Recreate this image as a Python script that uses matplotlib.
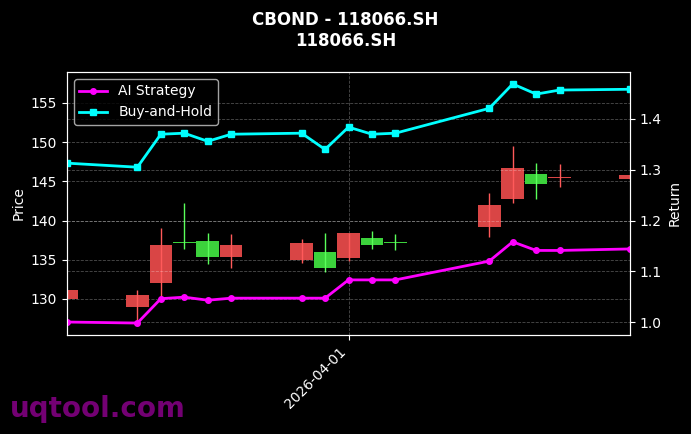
import pandas as pd
import matplotlib
matplotlib.use("Agg")
import matplotlib.pyplot as plt
import matplotlib.dates as mdates

dates = pd.to_datetime([
    "2026-03-20", "2026-03-23", "2026-03-24", "2026-03-25", "2026-03-26", "2026-03-27",
    "2026-03-30", "2026-03-31", "2026-04-01", "2026-04-02", "2026-04-03",
    "2026-04-07", "2026-04-08", "2026-04-09", "2026-04-10", "2026-04-13",
])
opens = [131.1, 130.5, 136.9, 137.15, 135.4, 136.9, 137.1, 133.9, 138.4, 136.9, 137.1,
         142.0, 146.7, 144.6, 145.55, 145.8]
closes = [130.0, 129.0, 132.0, 137.2, 137.4, 135.4, 135.0, 136.0, 135.2, 137.8, 137.2,
          139.2, 142.8, 146.0, 145.45, 145.3]
highs = [131.1, 131.2, 139.0, 142.3, 138.4, 138.3, 137.7, 138.4, 138.4, 138.7, 138.3,
         143.5, 149.5, 147.3, 147.2, 145.8]
lows = [130.0, 126.9, 130.2, 136.4, 134.4, 134.0, 134.6, 133.5, 134.8, 136.4, 136.25,
        137.95, 142.3, 142.8, 144.3, 145.3]

ai_strategy = [1.000, 0.998, 1.046, 1.049, 1.043, 1.047, 1.047, 1.047, 1.083, 1.083, 1.083,
               1.120, 1.158, 1.141, 1.141, 1.144]
buy_hold = [1.313, 1.305, 1.370, 1.372, 1.356, 1.370, 1.372, 1.340, 1.384, 1.370, 1.372,
            1.421, 1.469, 1.449, 1.457, 1.4585]

plt.style.use("dark_background")
fig = plt.figure(figsize=(6.91, 4.34), dpi=100)
ax = fig.add_axes([67 / 691, 1 - 335 / 434, (630 - 67) / 691, (335 - 72) / 434])

x = mdates.date2num(dates)
width = 0.96
for xi, o, c, h, l in zip(x, opens, closes, highs, lows):
    if c >= o:
        body_col, wick_col = "#3cd23c", "#5aff5a"
    else:
        body_col, wick_col = "#d94545", "#ff5a5a"
    ax.bar(xi, max(abs(c - o), 0.12), bottom=min(o, c), width=width, color=body_col, zorder=2)
    ax.vlines(xi, l, h, color=wick_col, linewidth=1, zorder=3)

ax.set_ylim(125.4, 158.95)
ax.set_xlim(x[0], x[-1])
ax.set_ylabel("Price", fontsize=10)
ax.grid(True, linestyle="--", linewidth=0.6, alpha=0.3)

ax2 = ax.twinx()
ax2.plot(x, ai_strategy, color="magenta", linewidth=2, marker="o", markersize=4, label="AI Strategy")
ax2.plot(x, buy_hold, color="cyan", linewidth=2, marker="s", markersize=4, label="Buy-and-Hold")
ax2.set_ylabel("Return", fontsize=10)
ax2.grid(True, linestyle="--", linewidth=0.6, alpha=0.3)
ax2.legend(loc="upper left", facecolor="black", edgecolor="#cccccc", fontsize=10)

ax.set_xticks([mdates.date2num(pd.Timestamp("2026-04-01"))])
ax.xaxis.set_major_formatter(mdates.DateFormatter("%Y-%m-%d"))
plt.setp(ax.get_xticklabels(), rotation=45, ha="right")

fig.suptitle("CBOND - 118066.SH\n118066.SH", fontsize=12, fontweight="bold", y=0.975)
fig.text(0.014, 0.04, "uqtool.com", color="purple", fontsize=20, fontweight="bold", alpha=0.9)

fig.savefig("out.png", dpi=100, facecolor="black")
